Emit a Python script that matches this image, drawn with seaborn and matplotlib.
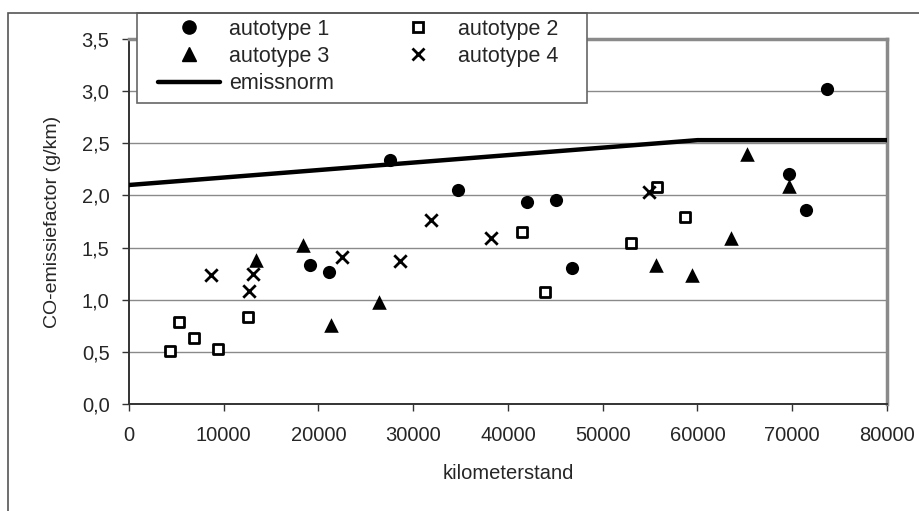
import matplotlib
matplotlib.use("Agg")
from matplotlib import pyplot as plt
from matplotlib.lines import Line2D
from matplotlib.patches import Rectangle
from matplotlib.ticker import FuncFormatter, MultipleLocator
import seaborn as sns

sns.set_style("white")
plt.rcParams["font.family"] = ["Liberation Sans", "DejaVu Sans"]

# kilometerstand / CO-emissiefactor per autotype
t1_x = [19100, 21100, 27500, 34700, 42000, 45100, 46800, 69700, 71500, 73700]
t1_y = [1.33, 1.27, 2.34, 2.05, 1.94, 1.96, 1.30, 2.21, 1.86, 3.02]
t2_x = [4300, 5300, 6900, 9400, 12600, 41500, 43900, 53000, 55700, 58700]
t2_y = [0.51, 0.79, 0.63, 0.53, 0.83, 1.65, 1.07, 1.54, 2.08, 1.79]
t3_x = [13400, 18400, 21300, 26400, 55600, 59400, 63500, 65200, 69700]
t3_y = [1.38, 1.52, 0.76, 0.98, 1.33, 1.24, 1.59, 2.40, 2.09]
t4_x = [8700, 12700, 13100, 22500, 28600, 31900, 38200, 54900]
t4_y = [1.24, 1.08, 1.25, 1.41, 1.37, 1.76, 1.59, 2.03]
norm_x = [0, 60000, 80000]
norm_y = [2.10, 2.53, 2.53]

fs = 14.5
W, H = 920, 511

fig = plt.figure(figsize=(9.2, 5.11), dpi=100)
ax = fig.add_axes([129 / W, 1 - 404 / H, 758 / W, 365 / H])

# outer chart frame
fig.patches.append(Rectangle((8 / W, -0.1), 1.2, 1 - 13 / H + 0.1,
                             transform=fig.transFigure, fill=False,
                             edgecolor="#555555", linewidth=1.2, zorder=0))

ax.grid(axis="y", color="#8a8a8a", linewidth=1.0)
ax.set_axisbelow(True)

sns.lineplot(x=norm_x, y=norm_y, color="black", linewidth=3.2, ax=ax, zorder=3)
sns.scatterplot(x=t1_x, y=t1_y, marker="o", color="black", s=90, linewidth=0, ax=ax, zorder=4)
sns.scatterplot(x=t2_x, y=t2_y, marker="s", color="white", edgecolor="black", s=48,
                linewidth=2, ax=ax, zorder=4)
sns.scatterplot(x=t3_x, y=t3_y, marker="^", color="black", s=110, linewidth=0, ax=ax, zorder=4)
sns.scatterplot(x=t4_x, y=t4_y, marker="x", color="black", s=80, linewidth=2, ax=ax, zorder=4)

ax.set_xlim(0, 80000)
ax.set_ylim(0, 3.5)
ax.xaxis.set_major_locator(MultipleLocator(10000))
ax.yaxis.set_major_locator(MultipleLocator(0.5))
ax.yaxis.set_major_formatter(FuncFormatter(lambda v, p: f"{v:.1f}".replace(".", ",")))
ax.xaxis.set_major_formatter(FuncFormatter(lambda v, p: f"{v:.0f}"))
ax.tick_params(axis="y", direction="out", length=5, width=1, color="#333333",
               labelsize=fs, pad=9, left=True)
ax.tick_params(axis="x", direction="out", length=5, width=1, color="#333333",
               labelsize=fs, pad=11, bottom=True)

for side in ["left", "bottom"]:
    ax.spines[side].set_color("#333333")
    ax.spines[side].set_linewidth(1.4)
for side in ["top", "right"]:
    ax.spines[side].set_color("#8a8a8a")
    ax.spines[side].set_linewidth(2.5)

ax.set_xlabel("kilometerstand", fontsize=fs)
ax.set_ylabel("CO-emissiefactor (g/km)", fontsize=14)
ax.xaxis.set_label_coords(0.5, -0.165)
ax.yaxis.set_label_coords(-0.09, 0.5)

# legend box drawn separately so the entries can sit with the padding of the original
ax.add_patch(Rectangle((137 / W, 1 - 103 / H), 450 / W, 90 / H,
                       transform=fig.transFigure, facecolor="white", clip_on=False,
                       edgecolor="#666666", linewidth=1.2, zorder=9))

handles = [
    Line2D([], [], marker="o", color="black", linestyle="none", markersize=9.5),
    Line2D([], [], marker="^", color="black", linestyle="none", markersize=10.5),
    Line2D([], [], color="black", linewidth=3.2),
    Line2D([], [], marker="s", markerfacecolor="white", markeredgecolor="black",
           markeredgewidth=2, linestyle="none", markersize=7),
    Line2D([], [], marker="x", color="black", markeredgewidth=2, linestyle="none",
           markersize=9),
]
labels = ["autotype 1", "autotype 3", "emissnorm", "autotype 2", "autotype 4"]
leg = ax.legend(handles, labels, ncol=2, loc="upper left", mode="expand",
                bbox_to_anchor=(158 / W, 1 - 103 / H, 400 / W, 84 / H),
                bbox_transform=fig.transFigure, borderaxespad=0, fontsize=15.5,
                frameon=False, handlelength=2.9, handletextpad=0.4,
                labelspacing=0.28, borderpad=0, columnspacing=1.0)
leg.set_zorder(10)

plt.savefig("out.png", dpi=100)
